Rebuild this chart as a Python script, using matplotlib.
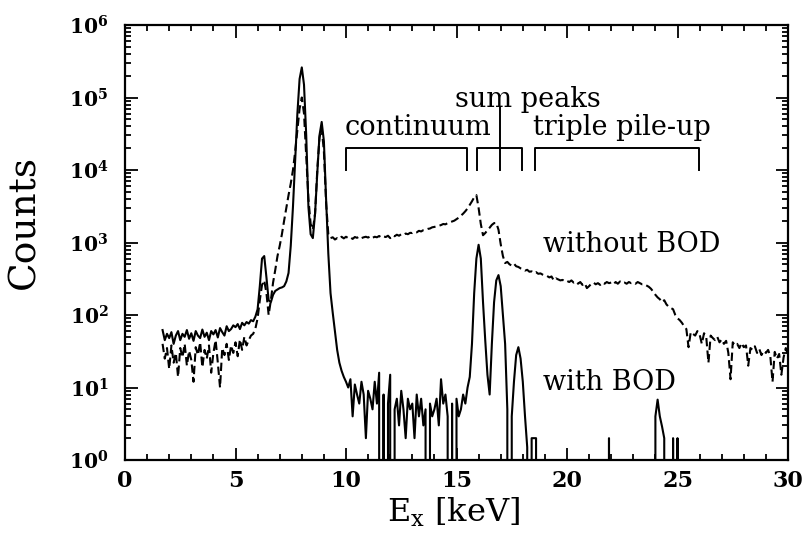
import numpy as np
import matplotlib
matplotlib.use("Agg")
import matplotlib.pyplot as plt
from matplotlib.ticker import LogLocator, MultipleLocator, LogFormatterMathtext, NullFormatter, FixedLocator

plt.rcParams['font.family'] = ['DejaVu Serif']
plt.rcParams['mathtext.fontset'] = 'dejavuserif'

# channel energies (keV), 0.1 keV bins from 1.7 to 30.0
energy = np.round(np.arange(17, 301) / 10.0, 1)

# "with BOD" spectrum (solid)
with_bod = [
    62, 45, 55,
    48, 58, 40, 52, 60, 45, 55, 50, 62, 47,
    56, 44, 60, 52, 48, 63, 50, 57, 45, 60,
    54, 62, 49, 66, 58, 52, 70, 60, 64, 72,
    68, 75, 64, 78, 72, 80, 76, 85, 82, 95,
    120, 250, 600, 650, 330, 160, 150, 190, 215, 225,
    235, 240, 250, 290, 380, 900, 3100, 14000, 60000, 180000,
    260000, 150000, 30000, 3100, 1300, 1150, 2500, 9000, 30000, 46000,
    25000, 3900, 700, 200, 107, 60, 33, 22, 17, 14,
    12, 10, 13, 4, 11, 8, 6, 12, 8, 2,
    9, 7, 5, 12, 6, 16, 0, 8, 0, 6,
    15, 0, 5, 7, 3, 9, 5, 2, 7, 5,
    6, 2, 8, 4, 7, 3, 5, 0, 6, 4,
    5, 7, 3, 13, 6, 8, 4, 0, 6, 0,
    7, 4, 5, 8, 6, 10, 14, 40, 200, 600,
    930, 600, 150, 45, 15, 8, 40, 150, 300, 355,
    250, 100, 40, 5, 0, 4, 12, 28, 36, 25,
    12, 4, 1.5, 0, 2, 2, 2, 0, 0, 0,
    0, 0, 0, 0, 0, 0, 0, 0, 0, 0,
    0, 0, 0, 0, 0, 0, 0, 0, 0, 0,
    0, 0, 0, 0, 0, 0, 0, 0, 0, 2,
    0, 0, 0, 0, 0, 0, 0, 0, 0, 0,
    0, 0, 0, 0, 0, 0, 0, 0, 0, 0,
    4, 6.8, 4, 2.9, 2, 0, 0, 0, 2, 0,
    2, 0, 0, 0, 0, 0, 0, 0, 0, 0,
    0, 0, 0, 0, 0, 0, 0, 0, 0, 0,
    0, 0, 0, 0, 0, 0, 0, 0, 0, 0,
    0, 0, 0, 0, 0, 0, 0, 0, 0, 0,
    0, 0, 0, 0, 0, 0, 0, 0, 0, 0,
    0,
]

# "without BOD" spectrum (dashed)
without_bod = [
    40, 25, 35,
    18, 38, 22, 30, 14, 35, 26, 40, 20, 32,
    24, 12, 36, 28, 42, 19, 33, 25, 38, 16,
    30, 45, 22, 10, 35, 28, 40, 24, 38, 30,
    42, 27, 46, 33, 50, 38, 45, 52, 55, 65,
    90, 160, 260, 300, 200, 100, 160, 280, 420, 650,
    900, 1300, 2000, 3000, 4500, 6500, 10000, 18000, 35000, 70000,
    100000, 60000, 15000, 4000, 1800, 1500, 2500, 10000, 28000, 38000,
    18000, 3500, 1300, 1150, 1180, 1100, 1150, 1120, 1200, 1140,
    1200, 1150, 1180, 1120, 1190, 1160, 1210, 1150, 1180, 1200,
    1170, 1220, 1160, 1200, 1180, 1230, 1170, 1210, 1190, 1240,
    1150, 1250, 1220, 1280, 1240, 1300, 1270, 1330, 1300, 1360,
    1350, 1400, 1380, 1450, 1420, 1480, 1500, 1540, 1560, 1620,
    1640, 1680, 1700, 1740, 1800, 1780, 1850, 1900, 1950, 2000,
    2100, 2200, 2350, 2500, 2700, 2950, 3300, 3700, 4200, 4500,
    3000, 1800, 1260, 1350, 1480, 1600, 1750, 1850, 1860, 1500,
    950, 650, 520, 540, 500, 480, 510, 470, 460, 440,
    430, 410, 420, 395, 400, 380, 390, 370, 375, 360,
    350, 345, 330, 340, 300, 320, 310, 300, 305, 290,
    295, 285, 300, 280, 290, 270, 285, 260, 275, 235,
    250, 270, 280, 265, 275, 260, 280, 270, 285, 275,
    280, 265, 285, 270, 290, 275, 280, 270, 285, 275,
    280, 270, 285, 275, 265, 265, 255, 245, 230, 210,
    190, 175, 165, 150, 160, 140, 130, 125, 120, 100,
    90, 85, 78, 70, 64, 36, 58, 55, 52, 60,
    54, 40, 56, 50, 22, 52, 48, 45, 50, 42,
    46, 40, 44, 30, 13, 42, 38, 40, 35, 41,
    36, 38, 20, 35, 33, 37, 30, 34, 28, 32,
    30, 33, 27, 12, 31, 25, 29, 15, 26, 35,
    28,
]

x_ticks = [0, 5, 10, 15, 20, 25, 30]
y_ticks = [1, 10, 100, 1000, 10000, 100000, 1000000]

fig = plt.figure(figsize=(8.08, 5.33), dpi=100)
ax = fig.add_axes([125/808, 1-460/533, (788-125)/808, (460-25)/533])

ax.plot(energy, without_bod, color='black', lw=1.5, ls=(0, (4, 2)))
ax.plot(energy, with_bod, color='black', lw=1.5, ls='-')

ax.set_yscale('log', nonpositive='clip')
ax.set_xlim(0, 30)
ax.set_ylim(1, 1e6)

ax.set_xticks(x_ticks)
ax.xaxis.set_minor_locator(MultipleLocator(1))
ax.yaxis.set_major_locator(FixedLocator(y_ticks))
minor_y = [m * d for d in y_ticks[:-1] for m in range(2, 10)]
ax.yaxis.set_minor_locator(FixedLocator(minor_y))
ax.yaxis.set_major_formatter(LogFormatterMathtext())
ax.yaxis.set_minor_formatter(NullFormatter())

ax.tick_params(which='both', direction='in', top=True, right=True, width=1.3)
ax.tick_params(which='major', length=9)
ax.tick_params(which='minor', length=4.5)
ax.tick_params(axis='x', which='major', labelsize=16, pad=7)
ax.tick_params(axis='y', which='major', labelsize=14.5, pad=12)
for lab in ax.get_xticklabels() + ax.get_yticklabels():
    lab.set_fontweight('bold')
for sp in ax.spines.values():
    sp.set_linewidth(1.6)

ax.set_xlabel(r'E$_\mathregular{x}$ [keV]', fontsize=23, va='center')
ax.xaxis.set_label_coords(0.495, -0.12)
ax.set_ylabel('Counts', fontsize=27, va='center')
ax.yaxis.set_label_coords(-0.152, 0.547)

# bracket annotations
br_top, br_bot = 2.0e4, 1.0e4
kw = dict(color='black', lw=1.4)
ax.plot([10.0, 10.0, 15.47, 15.47], [br_bot, br_top, br_top, br_bot], **kw)
ax.plot([15.91, 15.91, 17.95, 17.95], [br_bot, br_top, br_top, br_bot], **kw)
ax.plot([16.97, 16.97], [br_bot, 7.4e4], **kw)
ax.plot([18.55, 18.55, 25.97, 25.97], [br_bot, br_top, br_top, br_bot], **kw)

tkw = dict(fontsize=19.5, va='baseline', ha='left')
ax.text(9.95, 3.0e4, 'continuum', **tkw)
ax.text(14.93, 7.4e4, 'sum peaks', **tkw)
ax.text(18.46, 3.0e4, 'triple pile-up', **tkw)
ax.text(18.9, 740, 'without BOD', **tkw)
ax.text(18.9, 9.2, 'with BOD', **tkw)

fig.savefig('out.png', dpi=100)
